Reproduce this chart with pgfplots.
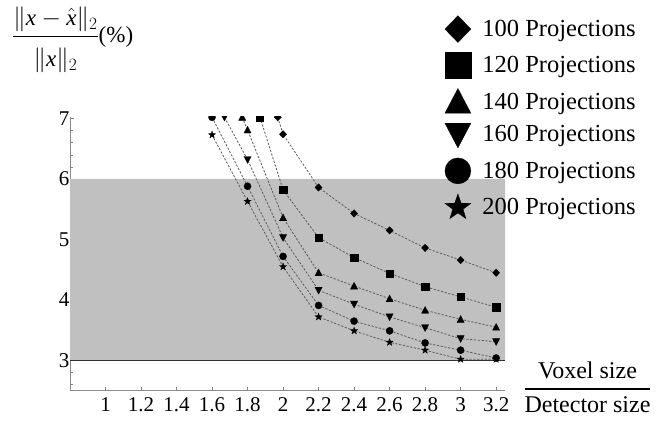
\documentclass[border=0pt]{standalone}
\usepackage{amsmath}
\usepackage{pgfplots}
\pgfplotsset{compat=1.18}
\usepackage{fontspec}
\setmainfont{Liberation Serif}

\pgfdeclareplotmark{mydiamond}{%
  \pgfpathmoveto{\pgfqpoint{0pt}{1.03\pgfplotmarksize}}%
  \pgfpathlineto{\pgfqpoint{1.0\pgfplotmarksize}{0pt}}%
  \pgfpathlineto{\pgfqpoint{0pt}{-1.03\pgfplotmarksize}}%
  \pgfpathlineto{\pgfqpoint{-1.0\pgfplotmarksize}{0pt}}%
  \pgfpathclose\pgfusepathqfillstroke}
\pgfdeclareplotmark{mytri}{%
  \pgfpathmoveto{\pgfqpoint{0pt}{1.05\pgfplotmarksize}}%
  \pgfpathlineto{\pgfqpoint{1.0\pgfplotmarksize}{-0.85\pgfplotmarksize}}%
  \pgfpathlineto{\pgfqpoint{-1.0\pgfplotmarksize}{-0.85\pgfplotmarksize}}%
  \pgfpathclose\pgfusepathqfillstroke}
\pgfdeclareplotmark{myinvtri}{%
  \pgfpathmoveto{\pgfqpoint{0pt}{-1.05\pgfplotmarksize}}%
  \pgfpathlineto{\pgfqpoint{1.0\pgfplotmarksize}{0.85\pgfplotmarksize}}%
  \pgfpathlineto{\pgfqpoint{-1.0\pgfplotmarksize}{0.85\pgfplotmarksize}}%
  \pgfpathclose\pgfusepathqfillstroke}
\pgfdeclareplotmark{mystar}{%
  \pgfpathmoveto{\pgfqpointpolar{90}{1.05\pgfplotmarksize}}%
  \pgfpathlineto{\pgfqpointpolar{126}{0.42\pgfplotmarksize}}%
  \pgfpathlineto{\pgfqpointpolar{162}{1.05\pgfplotmarksize}}%
  \pgfpathlineto{\pgfqpointpolar{198}{0.42\pgfplotmarksize}}%
  \pgfpathlineto{\pgfqpointpolar{234}{1.05\pgfplotmarksize}}%
  \pgfpathlineto{\pgfqpointpolar{270}{0.42\pgfplotmarksize}}%
  \pgfpathlineto{\pgfqpointpolar{306}{1.05\pgfplotmarksize}}%
  \pgfpathlineto{\pgfqpointpolar{342}{0.42\pgfplotmarksize}}%
  \pgfpathlineto{\pgfqpointpolar{18}{1.05\pgfplotmarksize}}%
  \pgfpathlineto{\pgfqpointpolar{54}{0.42\pgfplotmarksize}}%
  \pgfpathclose\pgfusepathqfillstroke}

\definecolor{shade}{RGB}{192,192,192}

\begin{document}
\begin{tikzpicture}
\useasboundingbox (-70pt,-31.3pt) rectangle (598pt,390.7pt);
\begin{axis}[
  at={(0pt,0pt)}, anchor=south west,
  scale only axis, width=435pt, height=274pt,
  xmin=0.8, xmax=3.25, ymin=2.5, ymax=7.03,
  axis x line*=bottom, axis y line*=left,
  axis line style={draw=black!45, line width=0.6pt},
  tick style={draw=black!50, line width=0.5pt},
  tick align=inside,
  major tick length=4pt, minor tick length=2.5pt,
  xtick={1,1.2,1.4,1.6,1.8,2,2.2,2.4,2.6,2.8,3,3.2},
  xticklabels={1,1.2,1.4,1.6,1.8,2,2.2,2.4,2.6,2.8,3,3.2},
  ytick={3,4,5,6,7},
  yticklabels={3,4,5,6,7},
  minor ytick={2.6,2.8,3.2,3.4,3.6,3.8,4.2,4.4,4.6,4.8,5.2,5.4,5.6,5.8,6.2,6.4,6.6,6.8},
  tick label style={font=\fontsize{21}{25}\selectfont},
  xticklabel style={yshift=-3pt},
  yticklabel style={xshift=3pt},
  clip marker paths=true,
  mark size=3.6pt,
  every axis plot/.append style={color=black!65, line width=0.8pt, dash pattern=on 2.2pt off 1.6pt,
     mark options={solid, fill=black, draw=black, line width=0.3pt}},
  legend image code/.code={\draw[#1, mark size=13pt] plot coordinates {(0pt,0pt)};},
  legend cell align=left,
  legend style={at={(axis description cs:0.8614,1.3693)}, anchor=north west,
     draw=none, fill=none, inner sep=0pt, nodes={inner sep=0pt},
     column sep=11.5pt, row sep=10pt,
     font=\fontsize{24.5}{29}\selectfont},
]
\addplot[forget plot, draw=none, fill=shade, solid] coordinates {(0.8,3) (3.25,3) (3.25,6) (0.8,6) (0.8,3)};
\addplot[forget plot, draw=black!80, line width=1.8pt, solid] coordinates {(0.8,3) (3.25,3)};

\addplot[mark=mydiamond] coordinates {(1.97,7.02) (2.0,6.74) (2.2,5.86) (2.4,5.43) (2.6,5.15) (2.8,4.86) (3.0,4.66) (3.2,4.45)};
\addlegendentry{100 Projections}
\addplot[mark=square*] coordinates {(1.87,7.02) (2.0,5.82) (2.2,5.03) (2.4,4.70) (2.6,4.44) (2.8,4.22) (3.0,4.05) (3.2,3.88)};
\addlegendentry{120 Projections}
\addplot[mark=mytri] coordinates {(1.77,7.02) (1.8,6.81) (2.0,5.36) (2.2,4.45) (2.4,4.23) (2.6,4.02) (2.8,3.83) (3.0,3.68) (3.2,3.55)};
\addlegendentry{140 Projections}
\addplot[mark=myinvtri] coordinates {(1.67,7.02) (1.8,6.32) (2.0,5.03) (2.2,4.16) (2.4,3.93) (2.6,3.72) (2.8,3.54) (3.0,3.36) (3.2,3.31)};
\addlegendentry{160 Projections}
\addplot[mark=*] coordinates {(1.6,7.02) (1.8,5.88) (2.0,4.72) (2.2,3.91) (2.4,3.65) (2.6,3.49) (2.8,3.29) (3.0,3.17) (3.2,3.04)};
\addlegendentry{180 Projections}
\addplot[mark=mystar] coordinates {(1.6,6.73) (1.8,5.63) (2.0,4.55) (2.2,3.72) (2.4,3.49) (2.6,3.30) (2.8,3.17) (3.0,3.02) (3.2,3.02)};
\addlegendentry{200 Projections}
\end{axis}
\node[anchor=base west, inner sep=0pt, font=\fontsize{23}{27}\selectfont] at (-58pt,348pt)
  {$\genfrac{}{}{0.9pt}{0}{\|\textit{x}-\hat{\textit{x}}\|_2}{\rule{0pt}{27pt}\|\textit{x}\|_2}$(\%)};
\node[anchor=base, inner sep=0pt, font=\fontsize{24}{28}\selectfont] at (517.5pt,-4.6pt)
  {$\genfrac{}{}{1.6pt}{0}{\mbox{Voxel size}}{\mbox{Detector size}}$};
\end{tikzpicture}
\end{document}
